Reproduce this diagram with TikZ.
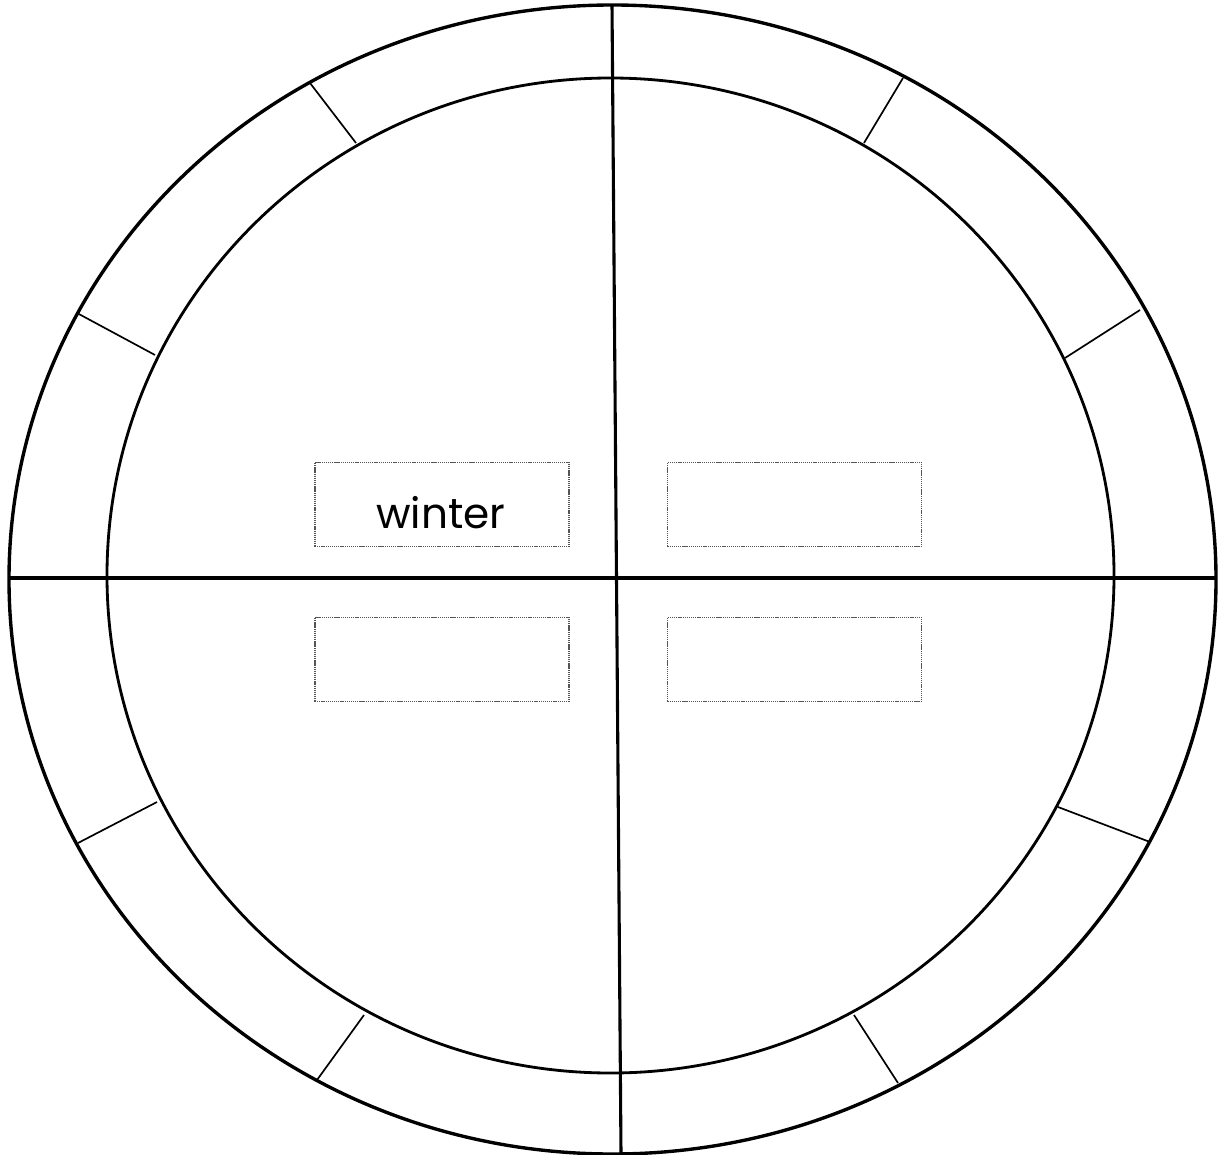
\documentclass[tikz,border=0pt]{standalone}
\usepackage{fontspec}
\setmainfont{Poppins}
\usepackage{xcolor}
\usepackage{tikz}
\usetikzlibrary{positioning}
\definecolor{ink}{HTML}{000000}
\definecolor{dotgray}{HTML}{555555}

\begin{document}
\begin{tikzpicture}[x=0.025cm,y=-0.025cm,font=\fontsize{30}{35}\selectfont]
\tikzset{rim/.style={draw=ink,line width=2.4pt}, spoke/.style={draw=ink,line width=2.2pt}, tick/.style={draw=ink,line width=1.2pt}, label box/.style={draw=dotgray,dash pattern=on 0.9pt off 0.6pt,line width=0.9pt,minimum width=6.35cm,minimum height=2.1cm,inner sep=0pt}}
\useasboundingbox (0,0) rectangle (1221,1155);
\draw[rim] (612.5,579.5) ellipse (603.5 and 574.5);
\draw[rim,line width=2pt] (610.5,575.5) ellipse (503.5 and 497.5);
\coordinate (top) at (612,5);
\coordinate (bottom) at (621,1154);
\coordinate (left) at (8,578);
\coordinate (right) at (1216,578);
\draw[spoke] (top)--(bottom);
\draw[spoke] (left)--(right);
% month ticks between the two rims
\foreach \ax/\ay/\bx/\by in {310/83/356/143, 77/313/155/355, 78/843/157/802, 317/1080/364/1015, 898/1083/854/1015, 1150/842/1058/807, 1140/310/1065/358, 903/78/864/143}
  \draw[tick] (\ax,\ay)--(\bx,\by);
\node[label box] (winter) at (442,504.5) {};
\node[label box] (spring) at (794.5,504.5) {};
\node[label box] (autumn) at (442,659.5) {};
\node[label box] (summer) at (794.5,659.5) {};
\node[anchor=base,inner sep=0pt] (wintertext) at (441,528) {winter};
\end{tikzpicture}
\end{document}
